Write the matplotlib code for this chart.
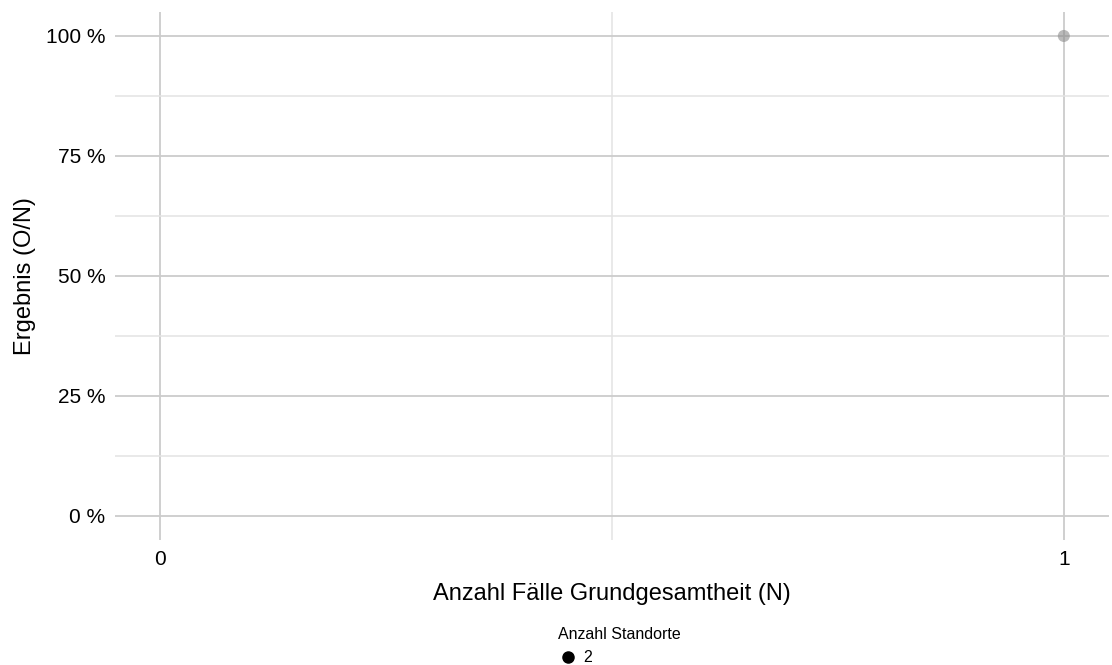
import matplotlib.pyplot as plt
from matplotlib.lines import Line2D
import numpy as np

plt.rcParams['font.family'] = ['Liberation Sans', 'DejaVu Sans']

# data
n_faelle = [1]
ergebnis = [1.0]
standorte_label = ['2']

x_ticks = [0, 1]
y_ticks = [0, 0.25, 0.5, 0.75, 1.0]
y_labels = ['0 %', '25 %', '50 %', '75 %', '100 %']

fig = plt.figure(figsize=(11.12, 6.65), dpi=100)
ax = fig.add_axes([0.1034, 0.188, 0.8939, 0.794])

ax.scatter(n_faelle, ergebnis, s=75, color='#8c8c8c', alpha=0.6, edgecolors='none', zorder=3)

ax.set_xlim(-0.05, 1.05)
ax.set_ylim(-0.05, 1.05)
ax.set_xticks(x_ticks)
ax.set_xticks([0.5], minor=True)
ax.set_yticks(y_ticks)
ax.set_yticks([0.125, 0.375, 0.625, 0.875], minor=True)
ax.set_yticklabels(y_labels)
ax.set_xticklabels([str(t) for t in x_ticks])

ax.grid(which='major', color='#cccccc', linewidth=1.3)
ax.grid(which='minor', color='#e3e3e3', linewidth=1.1)
ax.set_axisbelow(True)
for s in ax.spines.values():
    s.set_visible(False)
ax.tick_params(which='both', length=0, labelsize=15, labelcolor='black', pad=7)

ax.set_xlabel('Anzahl Fälle Grundgesamtheit (N)', fontsize=17, labelpad=10)
ax.set_ylabel('Ergebnis (O/N)', fontsize=17, labelpad=7)

handle = Line2D([], [], marker='o', linestyle='none', color='black', markersize=8)
leg = fig.legend([handle], standorte_label, title='Anzahl Standorte', loc='lower center',
                 bbox_to_anchor=(0.557, -0.017), frameon=False, fontsize=11.5,
                 title_fontsize=11.5, handletextpad=0.4, borderaxespad=0.3, handlelength=1.2,
                 labelspacing=0.2)
leg._legend_box.align = 'left'
leg._legend_box.sep = 6

fig.savefig('out.png', dpi=100)
